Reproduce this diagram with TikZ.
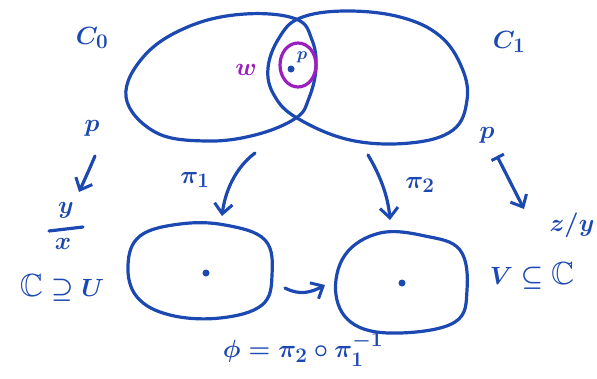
\documentclass[tikz,border=0pt]{standalone}
\usepackage{amssymb}
\usetikzlibrary{arrows.meta}
\definecolor{ink}{RGB}{28,72,178}
\definecolor{vio}{RGB}{155,30,192}
\tikzset{
  stroke/.style={draw=ink, line width=3.2pt, line cap=round, line join=round},
  vstroke/.style={draw=vio, line width=3.2pt, line cap=round},
  arr/.style={stroke, -{Straight Barb[length=10pt,width=18pt,line width=3pt]}},
  lab/.style={text=ink, font=\fontsize{32}{34}\selectfont\boldmath, inner sep=0pt},
  slab/.style={lab, font=\fontsize{26}{28}\selectfont\boldmath},
  vlab/.style={text=vio, font=\fontsize{32}{34}\selectfont\boldmath, inner sep=0pt},
  dotty/.style={fill=ink, circle, inner sep=0pt, minimum size=7pt},
}
\begin{document}
\begin{tikzpicture}[x=1pt,y=-1pt]
\useasboundingbox (0,0) rectangle (597,378);
% big shapes
\draw[stroke] plot[smooth cycle, tension=0.65] coordinates {(126,97) (145,55) (190,26) (245,14) (296,19) (312,40) (316,68) (309,98) (296,118) (255,135) (205,141) (155,132)};
\draw[stroke] plot[smooth cycle, tension=0.65] coordinates {(268,68) (279,38) (300,18) (345,11) (400,17) (440,36) (462,68) (467,100) (453,130) (410,143) (350,140) (297,118) (274,95)};
% purple
\draw[vstroke] (298,65) ellipse [x radius=18, y radius=22];
\node[vlab] (w) at (246,70) {$w$};
\node[lab, font=\fontsize{16}{18}\selectfont\boldmath] (pt) at (302,57) {$p$};
\node[dotty] (ptdot) at (291,69) {};
% labels top
\node[lab] (C0) at (92,38) {$C_0$};
\node[lab] (C1) at (509,42) {$C_1$};
% bottom shapes
\draw[stroke] plot[smooth cycle, tension=0.65] coordinates {(128,265) (140,236) (180,224) (225,225) (265,240) (272,275) (262,305) (220,318) (170,315) (137,297)};
\draw[stroke] plot[smooth cycle, tension=0.65] coordinates {(336,295) (345,255) (380,233) (425,236) (460,250) (467,290) (455,322) (400,333) (355,325)};
\node[dotty] (u0) at (206,273) {};
\node[dotty] (v0) at (402,283) {};
% left side
\node[lab] (pl) at (92,128) {$p$};
\coordinate (pls) at (95,156);
\coordinate (ple) at (79,192);
\draw[arr] (pls) .. controls (89,170) .. (ple);
\node[slab] (yy) at (66,210) {$y$};
\node[slab] (xx) at (63,244) {$x$};
\coordinate (fb1) at (49,231);
\coordinate (fb2) at (83,227);
\draw[stroke] (fb1) -- (fb2);
\node[lab] (CU) at (62,288) {$\mathbb{C}\supseteq U$};
% right side
\node[lab] (pr) at (487,135) {$p$};
\coordinate (prs) at (497,156);
\coordinate (pre) at (524,209);
\draw[stroke, {Bar[width=14pt,line width=3pt]}-{Straight Barb[length=10pt,width=18pt,line width=3pt]}] (prs) -- (pre);
\node[slab] (zy) at (572,225) {$z/y$};
\node[lab] (VC) at (532,276) {$V\subseteq\mathbb{C}$};
% pi arrows
\coordinate (a1s) at (255,153);
\coordinate (a1e) at (222,216);
\draw[arr] (a1s) .. controls (235,168) and (225,192) .. (a1e);
\node[lab] (pi1) at (195,180) {$\pi_1$};
\coordinate (a2s) at (368,155);
\coordinate (a2e) at (390,220);
\draw[arr] (a2s) .. controls (380,175) and (388,196) .. (a2e);
\node[lab] (pi2) at (420,185) {$\pi_2$};
% phi arrow
\coordinate (fs) at (285,288);
\coordinate (fe) at (325,285);
\draw[arr] (fs) .. controls (300,296) and (312,292) .. (fe);
\node[lab, font=\fontsize{28}{30}\selectfont\boldmath] (phi) at (303,350) {$\phi=\pi_2\circ\pi_1^{-1}$};
\end{tikzpicture}
\end{document}
